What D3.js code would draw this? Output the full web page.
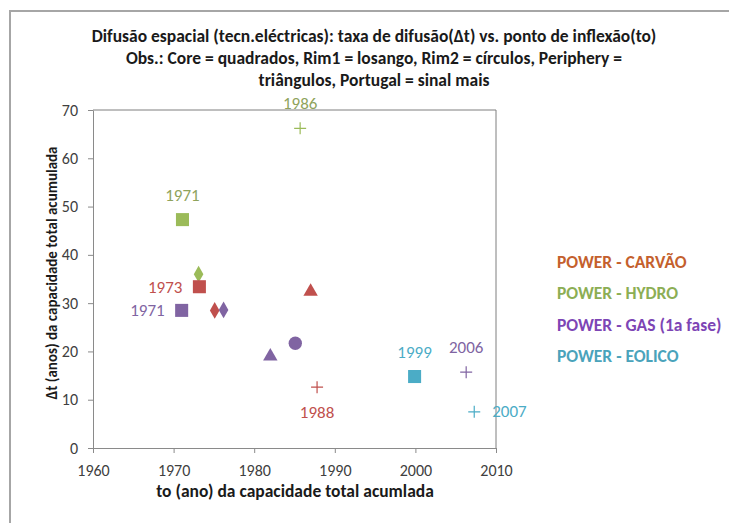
<!DOCTYPE html>
<html><head><meta charset="utf-8">
<script src="https://cdn.jsdelivr.net/npm/d3@7"></script>
<style>
body{margin:0;background:#fff;}
svg{display:block;font-family:Carlito,Calibri,"Open Sans",sans-serif;}
</style></head>
<body>
<svg id="c" width="729" height="523"></svg>
<script>
// ---- data ----
const seriesNames = ["POWER - CARVÃO", "POWER - HYDRO", "POWER - GAS (1a fase)", "POWER - EOLICO"];
const titleLines = [
  "Difusão espacial (tecn.eléctricas): taxa de difusão(Δt) vs. ponto de inflexão(to)",
  "Obs.: Core = quadrados, Rim1 = losango, Rim2 = círculos, Periphery =",
  "triângulos, Portugal = sinal mais"
];
const xTicks = [1960, 1970, 1980, 1990, 2000, 2010];
const yTicks = [0, 10, 20, 30, 40, 50, 60, 70];
const pointSeries = [1, 1, 1, 0, 2, 0, 2, 0, 2, 2, 0, 3, 2, 3];
const pointShape  = ["square","plus","diamond","square","square","diamond","diamond","triangle","triangle","circle","plus","square","plus","plus"];
const pointX = [1971.1, 1985.7, 1973.1, 1973.2, 1971.0, 1975.1, 1976.2, 1987.0, 1982.0, 1985.1, 1987.8, 1999.9, 2006.3, 2007.3];
const pointY = [47.3, 66.2, 36.0, 33.4, 28.5, 28.5, 28.6, 32.4, 19.0, 21.7, 12.6, 14.8, 15.7, 7.5];
const pointLabel = ["1971", "1986", "", "1973", "1971", "", "", "", "", "", "1988", "1999", "2006", "2007"];
const labelPos = ["top", "top", "", "left", "left", "", "", "", "", "", "bottom", "top", "top", "right"];

// ---- styles ----
const markerColors = ["#c0504d", "#9bbb59", "#8064a2", "#4bacc6"];
const labelColors  = ["#c0504d", "#8fa35c", "#8064a2", "#4bacc6"];
const legendColors = ["#c4602d", "#8cae54", "#7d45b5", "#4aa3bb"];

const svg = d3.select("#c");
// outer frame
svg.append("rect").attr("x", 10).attr("y", 11).attr("width", 730).attr("height", 530)
  .attr("fill", "none").attr("stroke", "#a6a6a6").attr("stroke-width", 2);

// title
svg.append("g").selectAll("text").data(titleLines).join("text")
  .attr("x", 374).attr("y", (d, i) => 42 + i * 22)
  .attr("text-anchor", "middle").attr("font-size", 17.5).attr("font-weight", "bold")
  .attr("fill", "#1a1a1a").text(d => d);

const x = d3.scaleLinear().domain([1960, 2010]).range([93, 496]);
const y = d3.scaleLinear().domain([0, 70]).range([448, 110]);

// plot border (top & right)
svg.append("path").attr("d", `M${x(1960)},${y(70)}H${x(2010)}V${y(0)}`)
  .attr("fill", "none").attr("stroke", "#7f7f7f").attr("stroke-width", 1);

const xAxis = svg.append("g").attr("transform", `translate(0,${y(0)})`)
  .call(d3.axisBottom(x).tickValues(xTicks).tickFormat(d3.format("d")).tickSize(5).tickSizeOuter(0));
const yAxis = svg.append("g").attr("transform", `translate(${x(1960)},0)`)
  .call(d3.axisLeft(y).tickValues(yTicks).tickSize(5).tickSizeOuter(0));
[xAxis, yAxis].forEach(a => {
  a.select(".domain").attr("stroke", "#8a8a8a");
  a.selectAll(".tick line").attr("stroke", "#8a8a8a");
  a.selectAll(".tick text").attr("font-size", 16).attr("fill", "#404040")
    .attr("font-family", "Carlito,Calibri,'Open Sans',sans-serif");
});
xAxis.selectAll(".tick text").attr("dy", "0.9em").attr("y", 14);
yAxis.selectAll(".tick text").attr("x", -15);

// axis titles
svg.append("text").attr("x", 295).attr("y", 497).attr("text-anchor", "middle")
  .attr("font-size", 17.5).attr("font-weight", "bold").attr("fill", "#1a1a1a")
  .text("to  (ano) da capacidade total acumlada");
svg.append("text").attr("transform", `translate(57,${273}) rotate(-90)`)
  .attr("text-anchor", "middle").attr("font-size", 15).attr("font-weight", "bold").attr("fill", "#1a1a1a")
  .text("Δt  (anos) da capacidade total acumulada");

// markers
const idx = d3.range(pointX.length);
const sym = {
  square: d3.symbol().type(d3.symbolSquare).size(170)(),
  diamond: d3.symbol().type(d3.symbolDiamond).size(80)(),
  triangle: d3.symbol().type(d3.symbolTriangle).size(90)(),
  circle: d3.symbol().type(d3.symbolCircle).size(140)()
};
const g = svg.append("g");
idx.forEach(i => {
  const col = markerColors[pointSeries[i]];
  const px = x(pointX[i]), py = y(pointY[i]);
  if (pointShape[i] === "plus") {
    g.append("path").attr("d", `M${px - 6},${py}H${px + 6}M${px},${py - 6}V${py + 6}`)
      .attr("stroke", col).attr("stroke-width", 1.2).attr("fill", "none");
  } else {
    g.append("path").attr("d", sym[pointShape[i]])
      .attr("transform", `translate(${px},${py})`).attr("fill", col);
  }
});

// data labels
const off = {top: [0, -19, "middle"], bottom: [0, 31, "middle"], left: [-17, 6, "end"], right: [18, 5, "start"]};
idx.filter(i => pointLabel[i]).forEach(i => {
  const o = off[labelPos[i]];
  svg.append("text").attr("x", x(pointX[i]) + o[0]).attr("y", y(pointY[i]) + o[1])
    .attr("text-anchor", o[2]).attr("font-size", 17)
    .attr("fill", labelColors[pointSeries[i]]).text(pointLabel[i]);
});

// legend
svg.append("g").selectAll("text").data(seriesNames).join("text")
  .attr("x", 557).attr("y", (d, i) => 268 + i * 31.3)
  .attr("font-size", 17.5).attr("font-weight", "bold")
  .attr("fill", (d, i) => legendColors[i]).text(d => d);
</script>
</body></html>
